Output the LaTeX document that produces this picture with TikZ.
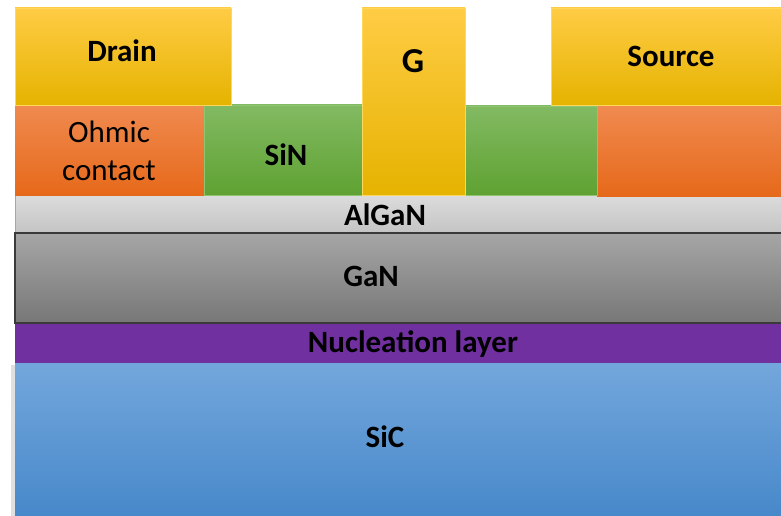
\documentclass[tikz,border=0pt]{standalone}
\usepackage{fontspec}
\setmainfont{Carlito}
\definecolor{goldT}{HTML}{FFCC45}
\definecolor{goldM}{HTML}{FFC000}
\definecolor{goldB}{HTML}{E5B300}
\definecolor{goldE}{HTML}{FFD75A}
\definecolor{orT}{HTML}{F08A50}
\definecolor{orB}{HTML}{E6691A}
\definecolor{grT}{HTML}{82BA62}
\definecolor{grB}{HTML}{5FA232}
\definecolor{grE}{HTML}{8FC470}
\definecolor{agT}{HTML}{DCDCDC}
\definecolor{agB}{HTML}{C4C4C4}
\definecolor{gnT}{HTML}{A6A6A6}
\definecolor{gnB}{HTML}{777777}
\definecolor{purp}{HTML}{7030A0}
\definecolor{scT}{HTML}{73A7DC}
\definecolor{scB}{HTML}{4788CA}
\definecolor{edgeD}{HTML}{3A3A3A}
\tikzset{
  metal/.style={top color=goldT, middle color=goldM, bottom color=goldB, draw=goldE, line width=0.6pt},
  ohmic/.style={top color=orT, bottom color=orB, draw=none},
  sin/.style={top color=grT, bottom color=grB, draw=grE, line width=0.6pt},
  lbl/.style={font=\fontsize{31}{34}\selectfont\bfseries, text=black, inner sep=0pt},
  lblr/.style={font=\fontsize{31}{38}\selectfont, text=black, inner sep=0pt, align=center},
}
\begin{document}
\begin{tikzpicture}[x=1pt,y=1pt]
\useasboundingbox (0,0) rectangle (781,515);
% substrate with slight shadow
\fill[black!12] (11,-2) rectangle (15,150);
\shade[top color=scT, bottom color=scB] (15,-2) rectangle (782,152);
\fill[purp] (15,152) rectangle (782,192);
\shade[top color=gnT, bottom color=gnB, draw=edgeD, line width=1.2pt] (15,192) rectangle (783,282);
\shade[top color=agT, bottom color=agB, draw=black!35, line width=0.5pt] (15,282) rectangle (783,320);
\draw[edgeD, line width=1.2pt] (15,282) -- (783,282);
% ohmic and SiN
\shade[ohmic] (15,320) rectangle (204,410);
\shade[ohmic] (597,319) rectangle (782,409);
\shade[sin] (204,320) rectangle (362,410);
\shade[sin] (465,320) rectangle (597,409);
% metals
\shade[metal] (15,410) rectangle (231,507);
\shade[metal] (551,410) rectangle (782,507);
\shade[metal] (362,320) rectangle (465,507);
% labels
\node[lbl] (drain) at (122,464) {Drain};
\node[lbl] (source) at (671,459) {Source};
\node[lbl, font=\fontsize{35}{38}\selectfont\bfseries] (gate) at (413,454) {G};
\node[lblr] (ohm) at (109,364) {Ohmic\\contact};
\node[lbl] (sinl) at (286,360) {SiN};
\node[lbl] (algan) at (385,300) {AlGaN};
\node[lbl] (gan) at (371,239) {GaN};
\node[lbl] (nuc) at (413,171) {Nucleation layer};
\node[lbl] (sic) at (385,78) {SiC};
\end{tikzpicture}
\end{document}
